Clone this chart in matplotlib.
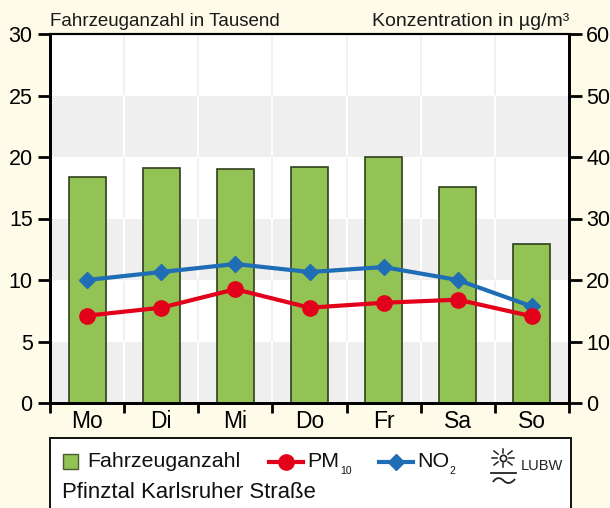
import matplotlib
matplotlib.use("Agg")
import matplotlib.pyplot as plt
from matplotlib.patches import Rectangle, PathPatch
from matplotlib.path import Path

days = ["Mo", "Di", "Mi", "Do", "Fr", "Sa", "So"]
fahrzeuge = [18.4, 19.1, 19.0, 19.2, 20.0, 17.6, 12.9]
pm10 = [14.2, 15.5, 18.5, 15.5, 16.3, 16.8, 14.1]
no2 = [20.0, 21.3, 22.6, 21.3, 22.1, 20.0, 15.7]
left_ticks = [0, 5, 10, 15, 20, 25, 30]
right_ticks = [0, 10, 20, 30, 40, 50, 60]
station = "Pfinztal Karlsruher Straße"

W, H = 610, 508
BG = "#FEFBE9"
GREEN = "#92C354"
RED = "#E3001B"
BLUE = "#1F6DB5"
INK = "#111111"
plt.rcParams["font.family"] = ["Liberation Sans", "DejaVu Sans"]

fig = plt.figure(figsize=(W / 100, H / 100), dpi=100, facecolor=BG)
L, R, T, B = 50, 569, 34, 403
ax = fig.add_axes([L / W, 1 - B / H, (R - L) / W, (B - T) / H])
ax.set_xlim(-0.5, 6.5)
ax.set_ylim(0, 30)
ax.set_facecolor("white")

# alternating bands and category separators
for lo in [0, 10, 20]:
    ax.axhspan(lo, lo + 5, color="#EFEFEF", lw=0, zorder=0)
for i in range(1, 7):
    for lo in range(0, 30, 5):
        col = "white" if lo in (0, 10, 20) else "#F1F1F1"
        ax.plot([i - 0.5, i - 0.5], [lo + 0.08, lo + 4.92], color=col, lw=1.4, zorder=1, solid_capstyle="butt")

ax.bar(range(7), fahrzeuge, width=0.5, color=GREEN, edgecolor="#2F3F1C", lw=1.2, zorder=2)

ax.set_xticks([i - 0.5 for i in range(8)])
ax.set_xticklabels([])
ax.set_xticks(range(7), minor=True)
ax.set_xticklabels(days, minor=True, fontsize=16.5)
ax.tick_params(axis="x", which="major", length=7, width=2, direction="out")
ax.tick_params(axis="x", which="minor", length=0, pad=5)
ax.set_yticks(left_ticks)
ax.tick_params(axis="y", length=9, width=2, labelsize=15.5, pad=3.5)

ax2 = ax.twinx()
ax2.set_ylim(0, 60)
ax2.set_yticks(right_ticks)
ax2.tick_params(axis="y", length=9, width=2, labelsize=15.5, pad=3.5)
ax2.plot(range(7), no2, color=BLUE, lw=3, marker="D", ms=8, mec=BLUE, zorder=4)
ax2.plot(range(7), pm10, color=RED, lw=3, marker="o", ms=11, mec=RED, zorder=5)
for a in (ax, ax2):
    a.spines["left"].set_linewidth(2)
    a.spines["right"].set_linewidth(2)
    a.spines["bottom"].set_linewidth(2)
    a.spines["top"].set_linewidth(1.5)

fig.text(50 / W, 1 - 21 / H, "Fahrzeuganzahl in Tausend", fontsize=13.5, va="center", ha="left", color="#1a1a1a")
fig.text(569 / W, 1 - 21 / H, "Konzentration in µg/m³", fontsize=14, va="center", ha="right", color="#1a1a1a")

# legend panel drawn in pixel coordinates
ov = fig.add_axes([0, 0, 1, 1], facecolor="none")
ov.set_xlim(0, W)
ov.set_ylim(H, 0)
ov.axis("off")
ov.add_patch(Rectangle((50, 438), 521, 90, fc="white", ec=INK, lw=1.4))
ov.add_patch(Rectangle((62.5, 454), 15, 15, fc=GREEN, ec="#4A5A33", lw=1))
ov.text(87, 461.5, "Fahrzeuganzahl", fontsize=15.4, va="center", color=INK)
ov.plot([268.5, 303], [461.5] * 2, color=RED, lw=3)
ov.plot([285.5], [461.5], "o", color=RED, ms=11)
ov.text(307, 461.5, "PM", fontsize=15.4, va="center", color=INK)
ov.text(340, 471, "10", fontsize=7.5, va="center", color=INK)
ov.plot([379, 413], [461.5] * 2, color=BLUE, lw=3)
ov.plot([396], [461.5], "D", color=BLUE, ms=8)
ov.text(417, 461.5, "NO", fontsize=15.4, va="center", color=INK)
ov.text(449, 471, "2", fontsize=7.5, va="center", color=INK)
ov.text(62, 493, station, fontsize=15.9, va="center", color=INK)

# logo: sun, horizon, wave and lettering
cx, cy = 503, 458
LOGO = "#222222"
ov.plot([cx], [cy], "o", ms=4.5, mfc="white", mec=LOGO, mew=1.2)
for dx, dy in [(-11, 0), (11, 0), (0, -9), (0, 9), (-9, -7), (9, -7), (-9, 7), (9, 7)]:
    ov.plot([cx + dx * 0.55, cx + dx], [cy + dy * 0.55, cy + dy], color=LOGO, lw=1.1)
ov.plot([491, 516], [473, 473], color=LOGO, lw=1.3)
wave = Path([(493, 482), (497, 476), (501, 478), (504, 481), (507, 484), (511, 484), (515, 479)],
            [Path.MOVETO] + [Path.CURVE4] * 6)
ov.add_patch(PathPatch(wave, fc="none", ec=LOGO, lw=1.3))
ov.text(521, 466, "LUBW", fontsize=10.5, ha="left", va="center", color=LOGO)

fig.savefig("out.png", dpi=100, facecolor=BG)
